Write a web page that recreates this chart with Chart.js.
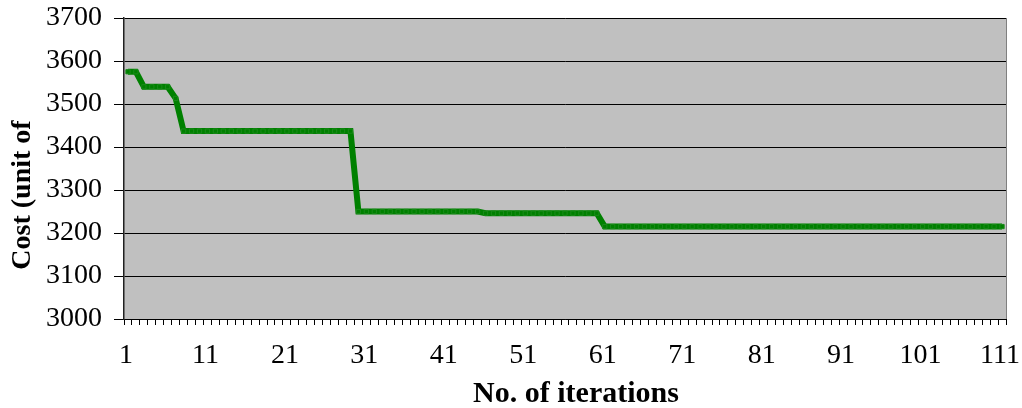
<!DOCTYPE html>
<html><head><meta charset="utf-8">
<script src="https://cdn.jsdelivr.net/npm/chart.js"></script>
<style>html,body{margin:0;padding:0;background:#fff}#wrap{width:1022px;height:408px}</style>
</head><body><div id="wrap"><canvas id="c" width="1022" height="408"></canvas></div>
<script>
const iterations = Array.from({length: 111}, (_, i) => String(i + 1));
const cost = [
  3575, 3575, 3540, 3540, 3540, 3540, 3513, 3437, 3437, 3437,
  3437, 3437, 3437, 3437, 3437, 3437, 3437, 3437, 3437, 3437,
  3437, 3437, 3437, 3437, 3437, 3437, 3437, 3437, 3437, 3250,
  3250, 3250, 3250, 3250, 3250, 3250, 3250, 3250, 3250, 3250,
  3250, 3250, 3250, 3250, 3250, 3246, 3246, 3246, 3246, 3246,
  3246, 3246, 3246, 3246, 3246, 3246, 3246, 3246, 3246, 3246,
  3215, 3215, 3215, 3215, 3215, 3215, 3215, 3215, 3215, 3215,
  3215, 3215, 3215, 3215, 3215, 3215, 3215, 3215, 3215, 3215,
  3215, 3215, 3215, 3215, 3215, 3215, 3215, 3215, 3215, 3215,
  3215, 3215, 3215, 3215, 3215, 3215, 3215, 3215, 3215, 3215,
  3215, 3215, 3215, 3215, 3215, 3215, 3215, 3215, 3215, 3215,
  3215
];
const yMin = 3000, yMax = 3700, yStep = 100;
const xLabelEvery = 10;
const xTitle = 'No. of iterations';
const yTitle = 'Cost (unit of';

const FONT = "'Liberation Serif', 'Times New Roman', serif";

const plotBg = {
  id: 'plotBg',
  beforeDraw(chart) {
    const {ctx, chartArea: a} = chart;
    ctx.save();
    ctx.fillStyle = '#C0C0C0';
    ctx.fillRect(a.left, a.top, a.right - a.left, a.bottom - a.top);
    ctx.restore();
  },
  afterDraw(chart) {
    const {ctx, chartArea: a} = chart;
    ctx.save();
    ctx.strokeStyle = '#808080';
    ctx.lineWidth = 1;
    ctx.beginPath();
    ctx.moveTo(a.right + 0.5, a.top);
    ctx.lineTo(a.right + 0.5, a.bottom);
    ctx.stroke();
    ctx.fillStyle = '#000';
    ctx.textAlign = 'center';
    ctx.textBaseline = 'alphabetic';
    ctx.font = "bold 30px " + FONT;
    ctx.fillText(xTitle, (a.left + a.right) / 2 + 11, 402);
    ctx.font = "bold 28px " + FONT;
    ctx.textBaseline = 'middle';
    ctx.translate(23, 195);
    ctx.rotate(-Math.PI / 2);
    ctx.fillText(yTitle, 0, 0);
    ctx.restore();
  }
};

new Chart(document.getElementById('c'), {
  type: 'line',
  data: {
    labels: iterations,
    datasets: [{
      data: cost,
      borderColor: '#008000',
      borderWidth: 6,
      pointStyle: 'rect',
      pointRadius: 3,
      pointBackgroundColor: '#008000',
      pointBorderColor: '#1a8a1a',
      pointBorderWidth: 1,
      tension: 0,
      fill: false
    }]
  },
  options: {
    responsive: false,
    animation: false,
    devicePixelRatio: 1,
    layout: {padding: {left: 0, right: 16, top: 18, bottom: 0}},
    plugins: {legend: {display: false}, tooltip: {enabled: false}},
    scales: {
      x: {
        type: 'category',
        offset: true,
        afterFit(s) { s.height = 89; s.paddingLeft = 0; s.paddingRight = 0; },
        grid: {display: true, drawOnChartArea: false, offset: true, drawTicks: true, tickLength: 6, color: '#000'},
        border: {color: '#000', width: 1},
        ticks: {
          autoSkip: false, maxRotation: 0, minRotation: 0, padding: 14, labelOffset: -2,
          color: '#000', font: {family: FONT, size: 28},
          callback(v, i) { return i % xLabelEvery === 0 ? iterations[i] : ''; }
        },
        title: {display: false}
      },
      y: {
        min: yMin, max: yMax,
        afterFit(s) { s.width = 124; s.paddingTop = 0; s.paddingBottom = 0; },
        grid: {color: '#000', lineWidth: 1, drawTicks: true, tickLength: 10, tickColor: '#000'},
        border: {color: '#202020', width: 1.5},
        ticks: {stepSize: yStep, padding: 12, color: '#000', font: {family: FONT, size: 28},
          callback(v) { return String(v); }}
      }
    }
  },
  plugins: [plotBg]
});
</script>
</body></html>
